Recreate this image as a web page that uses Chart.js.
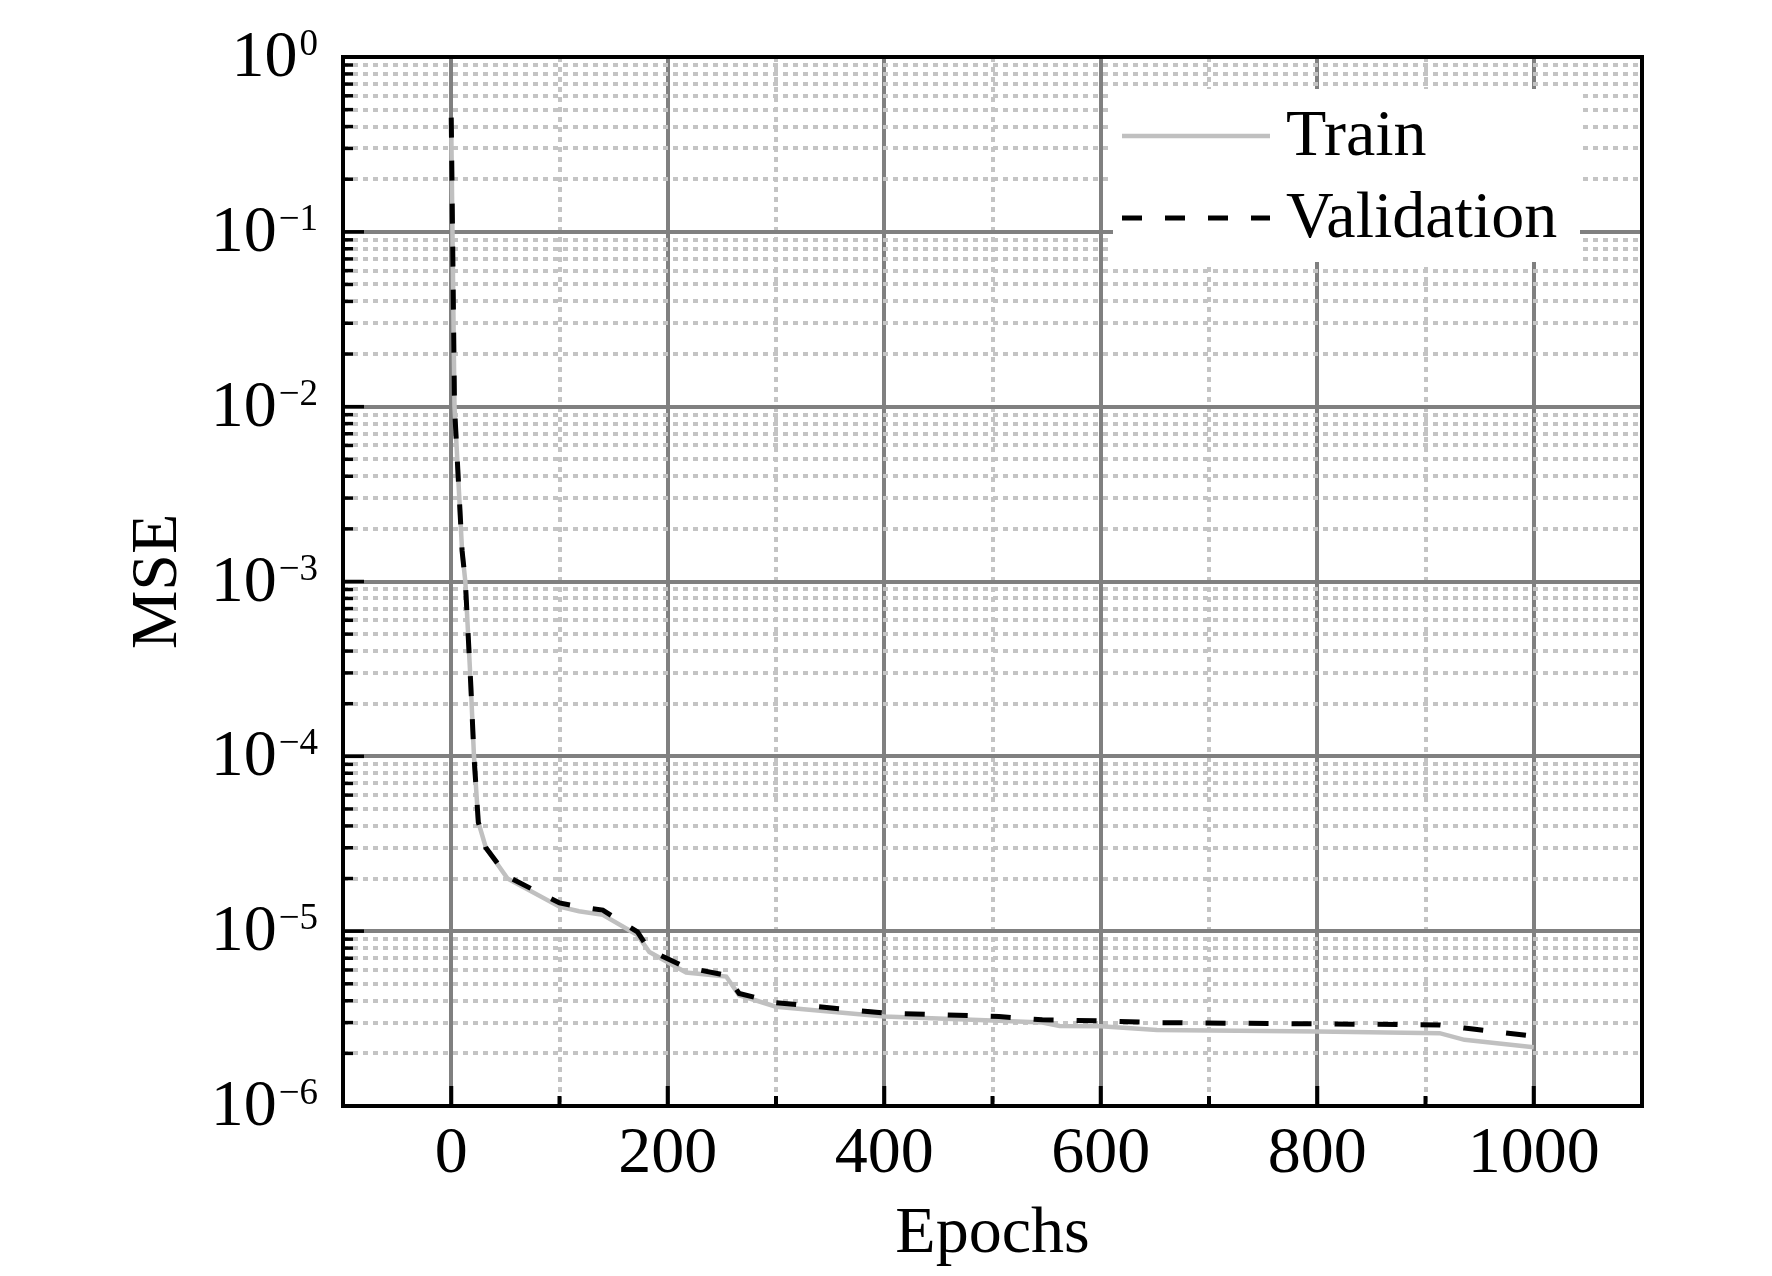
<!DOCTYPE html>
<html>
<head>
<meta charset="utf-8">
<script src="https://cdn.jsdelivr.net/npm/chart.js@4.4.1/dist/chart.umd.min.js"></script>
<style>
  html, body { margin: 0; padding: 0; background: #fff; }
  #wrap { width: 1772px; height: 1276px; position: relative; }
</style>
</head>
<body>
<div id="wrap"><canvas id="lossChart"></canvas></div>
<script>
// values
const epochs   = [0, 3, 10, 13, 18, 21, 25, 32, 52, 100, 118, 140, 172, 183, 217, 254, 266, 300, 400, 506, 546, 562, 600, 652, 800, 913, 936, 1000];
const trainMse = [0.4, 1e-2, 1.5e-3, 1e-3, 2.6e-4, 1e-4, 4.2e-5, 3.0e-5, 2.0e-5, 1.38e-5, 1.3e-5, 1.24e-5, 9.5e-6, 7.6e-6, 5.8e-6, 5.5e-6, 4.3e-6, 3.7e-6, 3.25e-6, 3.07e-6, 3.0e-6, 2.87e-6, 2.86e-6, 2.72e-6, 2.67e-6, 2.61e-6, 2.39e-6, 2.17e-6];
const valMse   = [0.45, 1e-2, 1.5e-3, 1e-3, 2.6e-4, 1e-4, 4.2e-5, 3.0e-5, 2.05e-5, 1.45e-5, 1.38e-5, 1.32e-5, 9.9e-6, 7.8e-6, 6.2e-6, 5.6e-6, 4.4e-6, 3.9e-6, 3.4e-6, 3.25e-6, 3.11e-6, 3.1e-6, 3.07e-6, 3.0e-6, 2.95e-6, 2.91e-6, 2.79e-6, 2.51e-6];
const seriesNames = ['Train', 'Validation'];
const xTickLabels = ['0', '200', '400', '600', '800', '1000'];
const yDecades = [0, -1, -2, -3, -4, -5, -6];

const FONT = '"Liberation Serif", "Times New Roman", serif';

// decade ticks plus 2..9 minor ticks
const yTickValues = [];
yDecades.slice(1).forEach(d => {
  for (let m = 1; m <= 9; m++) yTickValues.push(Number((m * Math.pow(10, d)).toPrecision(6)));
});
yTickValues.push(1);

const isDecade = v => Math.abs(Math.log10(v) - Math.round(Math.log10(v))) < 1e-6;
const isMajorX = v => v % 200 === 0;

const framePlugin = {
  id: 'framePlugin',
  afterDraw(chart) {
    const { ctx, chartArea: a, scales } = chart;
    ctx.save();
    ctx.strokeStyle = '#000';
    ctx.lineCap = 'butt';

    // inward ticks
    ctx.lineWidth = 3.5;
    scales.y.ticks.forEach(t => {
      const y = scales.y.getPixelForValue(t.value);
      const len = isDecade(t.value) ? 21 : 10;
      ctx.beginPath(); ctx.moveTo(a.left, y); ctx.lineTo(a.left + len, y); ctx.stroke();
    });
    ctx.lineWidth = 4;
    scales.x.ticks.forEach(t => {
      const x = scales.x.getPixelForValue(t.value);
      const len = isMajorX(t.value) ? 20 : 10;
      ctx.beginPath(); ctx.moveTo(x, a.bottom); ctx.lineTo(x, a.bottom - len); ctx.stroke();
    });

    // frame
    ctx.lineWidth = 4;
    ctx.strokeRect(a.left, a.top, a.right - a.left, a.bottom - a.top);

    // y tick labels 10^n
    ctx.fillStyle = '#000';
    ctx.textAlign = 'right';
    ctx.textBaseline = 'alphabetic';
    yDecades.forEach(d => {
      const y = scales.y.getPixelForValue(Math.pow(10, d));
      const exp = d === 0 ? '0' : '\u2212' + Math.abs(d);
      ctx.font = '37px ' + FONT;
      const expW = ctx.measureText(exp).width;
      ctx.fillText(exp, a.left - 25, y - 2);
      ctx.font = '66px ' + FONT;
      ctx.fillText('10', a.left - 25 - expW - 2, y + 19);
    });

    // legend
    const lx = a.right - 529, ly = a.top + 32;
    ctx.fillStyle = '#fff';
    ctx.fillRect(lx, ly, 467, 173);
    chart.data.datasets.forEach((ds, i) => {
      const yy = ly + 47 + i * 82;
      ctx.strokeStyle = ds.borderColor;
      ctx.lineWidth = ds.borderWidth;
      ctx.setLineDash(ds.borderDash || []);
      ctx.beginPath(); ctx.moveTo(lx + 9, yy); ctx.lineTo(lx + 157, yy); ctx.stroke();
      ctx.setLineDash([]);
      ctx.fillStyle = '#000';
      ctx.textAlign = 'left';
      ctx.font = '66px ' + FONT;
      ctx.fillText(ds.label, lx + 173, yy + 19);
    });
    ctx.restore();
  }
};

const ctx = document.getElementById('lossChart').getContext('2d');
const lossChart = new Chart(ctx, {
  type: 'line',
  data: {
    datasets: [
      {
        label: seriesNames[0],
        data: epochs.map((e, i) => ({ x: e, y: trainMse[i] })),
        borderColor: '#c0c0c0',
        borderWidth: 4.5,
        pointRadius: 0,
        tension: 0,
        order: 2
      },
      {
        label: seriesNames[1],
        data: epochs.map((e, i) => ({ x: e, y: valMse[i] })),
        borderColor: '#000000',
        borderWidth: 5,
        borderDash: [20, 23],
        pointRadius: 0,
        tension: 0,
        order: 1
      }
    ]
  },
  options: {
    responsive: true,
    maintainAspectRatio: false,
    animation: false,
    layout: { padding: { top: 57, right: 130, left: 0, bottom: 0 } },
    plugins: {
      legend: { display: false },
      tooltip: { enabled: false }
    },
    scales: {
      x: {
        type: 'linear',
        min: -100,
        max: 1100,
        afterFit: s => { s.height = 170; },
        ticks: {
          stepSize: 100,
          autoSkip: false,
          maxRotation: 0,
          minRotation: 0,
          padding: 9,
          color: '#000',
          font: { family: FONT, size: 66 },
          callback: v => xTickLabels.includes(String(v)) ? String(v) : ''
        },
        grid: {
          drawTicks: false,
          color: c => isMajorX(c.tick.value) ? '#808080' : '#c4c4c4',
          lineWidth: 4
        },
        border: {
          display: false,
          dash: c => (c.tick && !isMajorX(c.tick.value)) ? [5, 5] : []
        },
        title: {
          display: true,
          text: 'Epochs',
          color: '#000',
          font: { family: FONT, size: 66 },
          padding: { top: 0, bottom: 2 }
        }
      },
      y: {
        type: 'logarithmic',
        min: 1e-6,
        max: 1,
        afterFit: s => { s.width = 343; },
        afterBuildTicks: s => { s.ticks = yTickValues.map(v => ({ value: v })); },
        ticks: { display: false },
        grid: {
          drawTicks: false,
          color: c => isDecade(c.tick.value) ? '#808080' : '#c4c4c4',
          lineWidth: 4
        },
        border: {
          display: false,
          dash: c => (c.tick && !isDecade(c.tick.value)) ? [5, 5] : []
        },
        title: {
          display: true,
          text: 'MSE',
          color: '#000',
          font: { family: FONT, size: 66 },
          padding: { top: 119, bottom: 0 }
        }
      }
    }
  },
  plugins: [framePlugin]
});
</script>
</body>
</html>
